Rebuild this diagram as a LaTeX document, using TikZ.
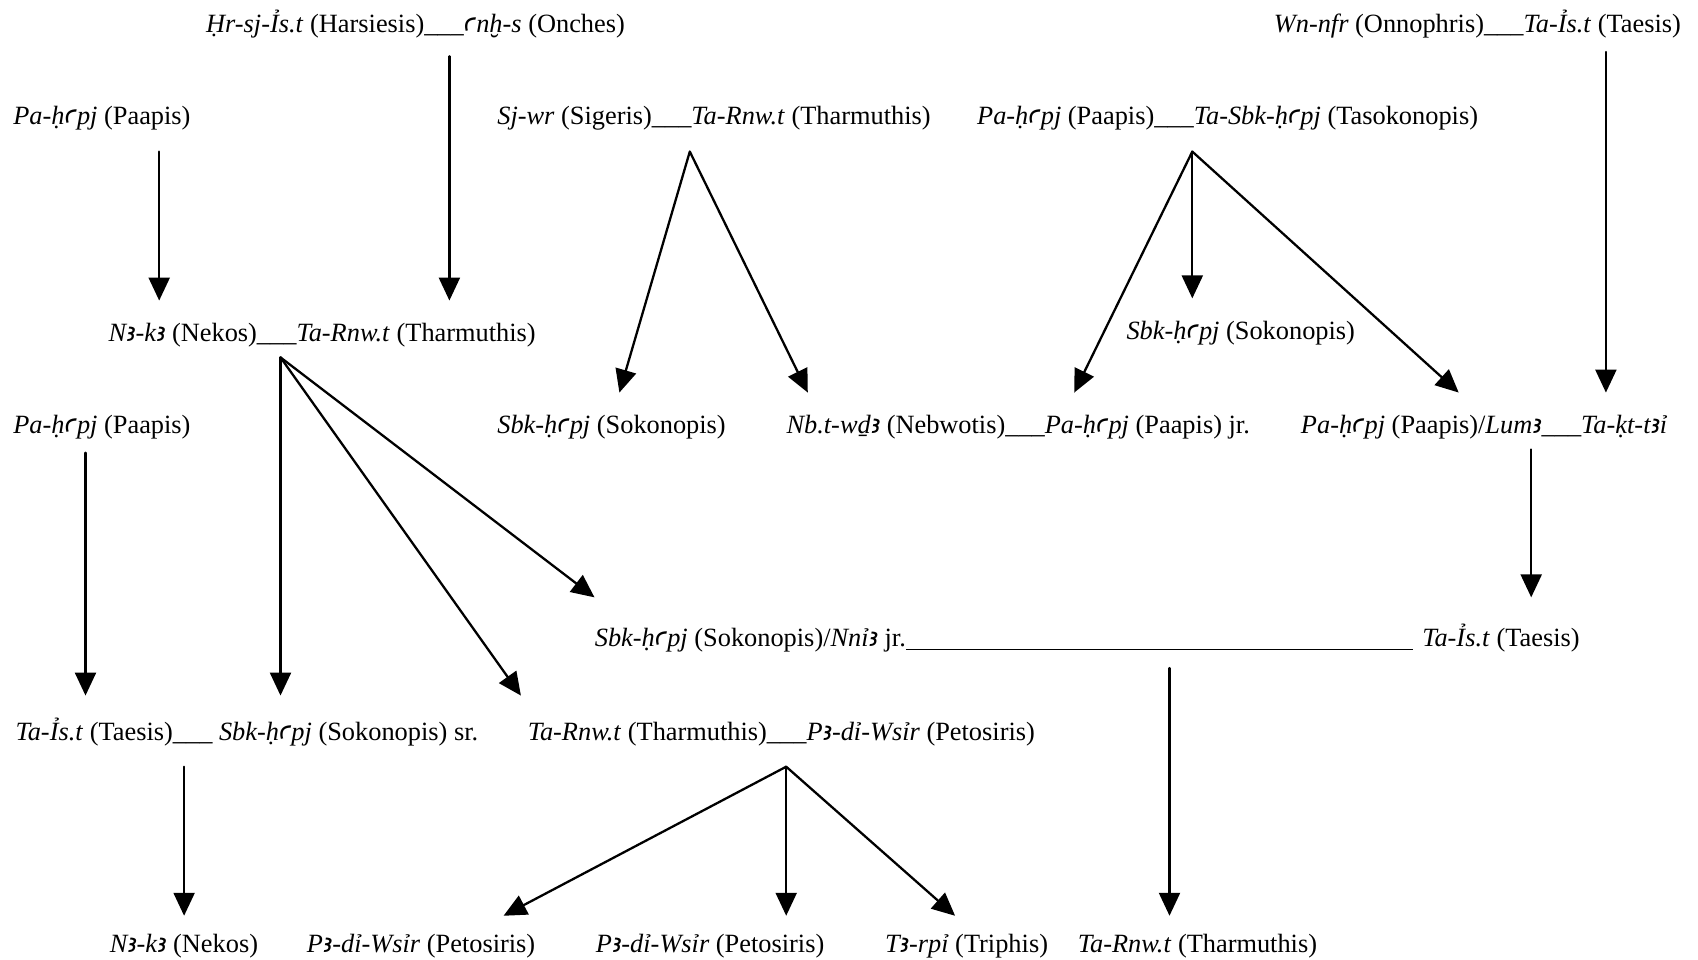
\documentclass[tikz,border=0pt]{standalone}
\usepackage{fontspec}
\setmainfont{Liberation Serif}
\newfontfamily\egA{DejaVu Serif}
\newfontfamily\egB{DejaVu Sans}
\newfontfamily\egC{Noto Sans}
\usetikzlibrary{arrows.meta}
% Egyptological alef and ayin, from the first family that has them
\newcommand\eg[1]{{\egA\iffontchar\font#1 \char#1 \else\egB\iffontchar\font#1 \char#1 \else\egC\char#1 \fi\fi}}
\newcommand\alef{\eg{"A723}}
\newcommand\ayin{\eg{"A725}}

\begin{document}
\begin{tikzpicture}[x=0.2mm,y=-0.2mm,line cap=round,
% Styles
person/.style={anchor=west,inner sep=0pt,outer ysep=4.3mm,text height=11pt,text depth=4pt,
  yshift=-0.55mm,font=\fontsize{15}{18}\selectfont},
descent/.style={line width=1.3pt,-{Triangle[length=4.6mm,width=4.2mm]}}]
% Local definitions
\def\mar{\_\_\_}
\useasboundingbox (0,0) rectangle (1698,960);
% first row
\node[person] (harsiesis) at (205.8,23.8) {\textit{Ḥr-sj-Ỉs.t} (Harsiesis)\mar\textit{\ayin nḫ-s} (Onches)};
\node[person] (onnophris) at (1273.5,23.8) {\textit{Wn-nfr} (Onnophris)\mar\textit{Ta-Ỉs.t} (Taesis)};
\node[person] (paapisA) at (13,115.9) {\textit{Pa-ḥ\ayin pj} (Paapis)};
\node[person] (sigeris) at (497,115.9) {\textit{Sj-wr} (Sigeris)\mar\textit{Ta-Rnw.t} (Tharmuthis)};
\node[person] (paapisB) at (976.8,115.9) {\textit{Pa-ḥ\ayin pj} (Paapis)\mar\textit{Ta-Sbk-ḥ\ayin pj} (Tasokonopis)};
% second row
\node[person] (nekosA) at (108.3,332.5) {\textit{N\alef-k\alef} (Nekos)\mar\textit{Ta-Rnw.t} (Tharmuthis)};
\node[person] (sokonA) at (1126.2,330.3) {\textit{Sbk-ḥ\ayin pj} (Sokonopis)};
\node[person] (paapisC) at (13,424.5) {\textit{Pa-ḥ\ayin pj} (Paapis)};
\node[person] (sokonB) at (497,424.5) {\textit{Sbk-ḥ\ayin pj} (Sokonopis)};
\node[person] (nebwotis) at (786.2,424.5) {\textit{Nb.t-wḏ\alef} (Nebwotis)\mar\textit{Pa-ḥ\ayin pj} (Paapis) jr.};
\node[person] (lumA) at (1300.6,424.5) {\textit{Pa-ḥ\ayin pj} (Paapis)/\textit{Lum\alef}\mar\textit{Ta-ḳt-t\alef ỉ}};
% third row
\node[person,outer ysep=6mm] (sokonC) at (594.5,637.8) {\textit{Sbk-ḥ\ayin pj} (Sokonopis)/\textit{Nnỉ\alef} jr.\rule[-0.14em]{101.5mm}{0.06em}};
\node[person,outer ysep=6mm] (taesisB) at (1421.9,637.8) {\textit{Ta-Ỉs.t} (Taesis)};
\node[person,outer ysep=5.2mm] (taesisA) at (15.2,732) {\textit{Ta-Ỉs.t} (Taesis)\mar{} \textit{Sbk-ḥ\ayin pj} (Sokonopis) sr.};
\node[person,outer ysep=5.2mm] (tharmA) at (527.4,732) {\textit{Ta-Rnw.t} (Tharmuthis)\mar\textit{P\alef-dỉ-Wsỉr} (Petosiris)};
% last row
\node[person,outer ysep=3.4mm] (nekosB) at (109.4,943.2) {\textit{N\alef-k\alef} (Nekos)};
\node[person,outer ysep=3.4mm] (petoA) at (306.5,943.2) {\textit{P\alef-dỉ-Wsỉr} (Petosiris)};
\node[person,outer ysep=3.4mm] (petoB) at (595.6,943.2) {\textit{P\alef-dỉ-Wsỉr} (Petosiris)};
\node[person,outer ysep=3.4mm] (triphis) at (884.7,943.2) {\textit{T\alef-rpỉ} (Triphis)};
\node[person,outer ysep=3.4mm] (tharmB) at (1077.5,943.2) {\textit{Ta-Rnw.t} (Tharmuthis)};
% junctions
\coordinate (jHar) at (449.4,56.3);
\coordinate (jOnn) at (1605.9,52);
\coordinate (jPaaA) at (159.2,151.6);
\coordinate (jSig) at (689.8,151.6);
\coordinate (jPaaB) at (1192.3,151.6);
\coordinate (jNek) at (280.5,357.4);
\coordinate (jPaaC) at (85.5,452.7);
\coordinate (jLum) at (1531.2,449.4);
\coordinate (jSok) at (1169.5,668.1);
\coordinate (jTae) at (184.1,766.7);
\coordinate (jTha) at (786.2,766.7);
% descent lines
\draw[descent] (jHar) -- (jHar |- nekosA.north);
\draw[descent] (jPaaA) -- (jPaaA |- nekosA.north);
\draw[descent] (jOnn) -- (jOnn |- lumA.north);
\foreach \x/\to in {619.4/sokonB, 807.8/nebwotis}
  \draw[descent] (jSig) -- (\x,0 |- \to.north);
\foreach \x/\to in {1192.3/sokonA, 1074.2/nebwotis, 1458.7/lumA}
  \draw[descent] (jPaaB) -- (\x,0 |- \to.north);
\foreach \x/\to in {280.5/taesisA, 520.9/tharmA, 594.5/sokonC}
  \draw[descent] (jNek) -- (\x,0 |- \to.north);
\draw[descent] (jPaaC) -- (jPaaC |- taesisA.north);
\draw[descent] (jLum) -- (jLum |- taesisB.north);
\draw[descent] (jSok) -- (jSok |- tharmB.north);
\draw[descent] (jTae) -- (jTae |- nekosB.north);
\foreach \x/\to in {503.5/petoA, 786.2/petoB, 955.1/triphis}
  \draw[descent] (jTha) -- (\x,0 |- \to.north);
\end{tikzpicture}
\end{document}
